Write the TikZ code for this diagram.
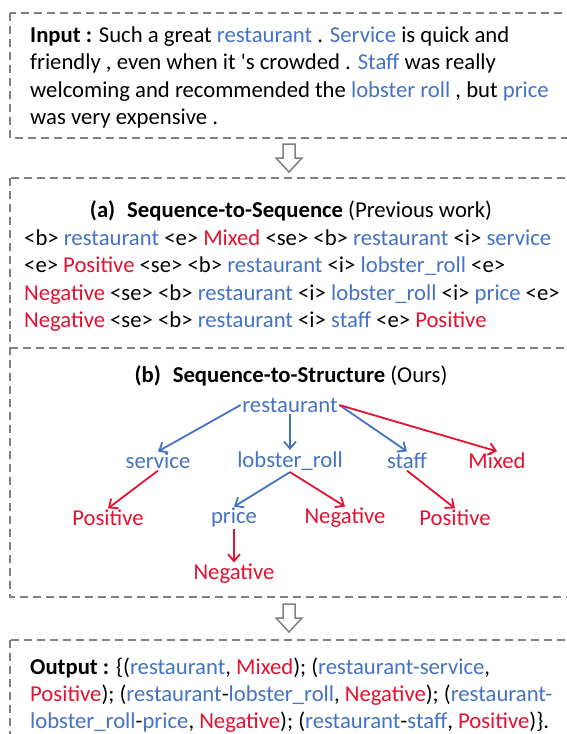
\documentclass[tikz,border=0pt]{standalone}
\usepackage{fontspec}
\setmainfont{Carlito}
\usetikzlibrary{arrows.meta}
\definecolor{aspblue}{RGB}{68,114,196}
\definecolor{polred}{RGB}{226,18,48}
\definecolor{boxgray}{RGB}{128,128,128}
\newcommand\bluet[1]{\textcolor{aspblue}{#1}}
\newcommand\redt[1]{\textcolor{polred}{#1}}
\tikzset{
  txt/.style={anchor=base west,inner sep=0pt,font=\fontsize{22.7}{26}\selectfont},
  ttl/.style={anchor=base,inner sep=0pt,font=\fontsize{22.7}{26}\selectfont},
  tnode/.style={inner sep=1.5pt,font=\fontsize{22.7}{26}\selectfont},
  dbox/.style={draw=boxgray,line width=1.5pt,dash pattern=on 8pt off 5pt},
  hollow/.style={draw=boxgray,line width=1.5pt,fill=white},
  barr/.style={draw=aspblue,line width=1.8pt,-{Straight Barb[length=7pt,width=12pt,line width=1.8pt]}},
  rarr/.style={draw=polred,line width=1.8pt,-{Straight Barb[length=7pt,width=12pt,line width=1.8pt]}}
}
\begin{document}
\begin{tikzpicture}[x=1pt,y=-1pt]
\useasboundingbox (0,0) rectangle (567,734);
\clip (0,0) rectangle (567,734);
% boxes
\draw[dbox] (10,13) rectangle (590,138);
\draw[dbox] (10,178) rectangle (590,597);
\draw[dbox] (10,348) -- (590,348);
\draw[dbox] (10,640) rectangle (590,760);
% hollow arrows
\draw[hollow] (283,144) -- (295,144) -- (295,158) -- (302,158) -- (289,172) -- (276,158) -- (283,158) -- cycle;
\draw[hollow] (283,604) -- (295,604) -- (295,618) -- (302,618) -- (289,632) -- (276,618) -- (283,618) -- cycle;
% input
\node[txt] (in1) at (30,42) {\textbf{Input :} Such a great \bluet{restaurant} . \bluet{Service} is quick and};
\node[txt] (in2) at (30,69) {friendly , even when it \textquotesingle s crowded . \bluet{Staff} was really};
\node[txt] (in3) at (30,97) {welcoming and recommended the \bluet{lobster roll} , but \bluet{price}};
\node[txt] (in4) at (30,124) {was very expensive .};
% (a)
\node[ttl] (ta) at (291,217) {\textbf{(a)\hspace{0.3em} Sequence-to-Sequence} (Previous work)};
\node[txt] (a1) at (24,245) {<b> \bluet{restaurant} <e> \redt{Mixed} <se> <b> \bluet{restaurant} <i> \bluet{service}};
\node[txt] (a2) at (24,272) {<e> \redt{Positive} <se> <b> \bluet{restaurant} <i> \bluet{lobster\_roll} <e>};
\node[txt] (a3) at (24,300) {\redt{Negative} <se> <b> \bluet{restaurant} <i> \bluet{lobster\_roll} <i> \bluet{price} <e>};
\node[txt] (a4) at (24,327) {\redt{Negative} <se> <b> \bluet{restaurant} <i> \bluet{staff} <e> \redt{Positive}};
% (b)
\node[ttl] (tb) at (291,382) {\textbf{(b)\hspace{0.3em} Sequence-to-Structure} (Ours)};
\node[tnode,text=aspblue] (rest) at (290,405) {restaurant};
\node[tnode,text=aspblue] (serv) at (158,461) {service};
\node[tnode,text=aspblue] (lob) at (290,461) {lobster\_roll};
\node[tnode,text=aspblue] (staff) at (407,461) {staff};
\node[tnode,text=polred] (mix) at (497,461) {Mixed};
\node[tnode,text=polred] (pos1) at (108,518) {Positive};
\node[tnode,text=aspblue] (price) at (234,518) {price};
\node[tnode,text=polred] (neg1) at (345,518) {Negative};
\node[tnode,text=polred] (pos2) at (455,518) {Positive};
\node[tnode,text=polred] (neg2) at (234,574) {Negative};
\draw[barr] (rest.west) -- (serv.north);
\draw[barr] (rest.south) -- (lob.north);
\draw[barr] (rest.east) -- (staff.north);
\draw[rarr] (rest.east) -- (mix.north);
\draw[rarr] (serv.south) -- (pos1.north);
\draw[barr] (lob.south) -- (price.north);
\draw[rarr] (lob.south) -- (neg1.north);
\draw[rarr] (staff.south) -- (pos2.north);
\draw[rarr] (price.south) -- (neg2.north);
% output
\node[txt] (o1) at (30,674) {\textbf{Output :} \{(\bluet{restaurant}, \redt{Mixed}); (\bluet{restaurant-service},};
\node[txt] (o2) at (30,701) {\redt{Positive}); (\bluet{restaurant}-\bluet{lobster\_roll}, \redt{Negative}); (\bluet{restaurant-}};
\node[txt] (o3) at (30,728) {\bluet{lobster\_roll}-\bluet{price}, \redt{Negative}); (\bluet{restaurant}-\bluet{staff}, \redt{Positive})\}.};
\end{tikzpicture}
\end{document}
